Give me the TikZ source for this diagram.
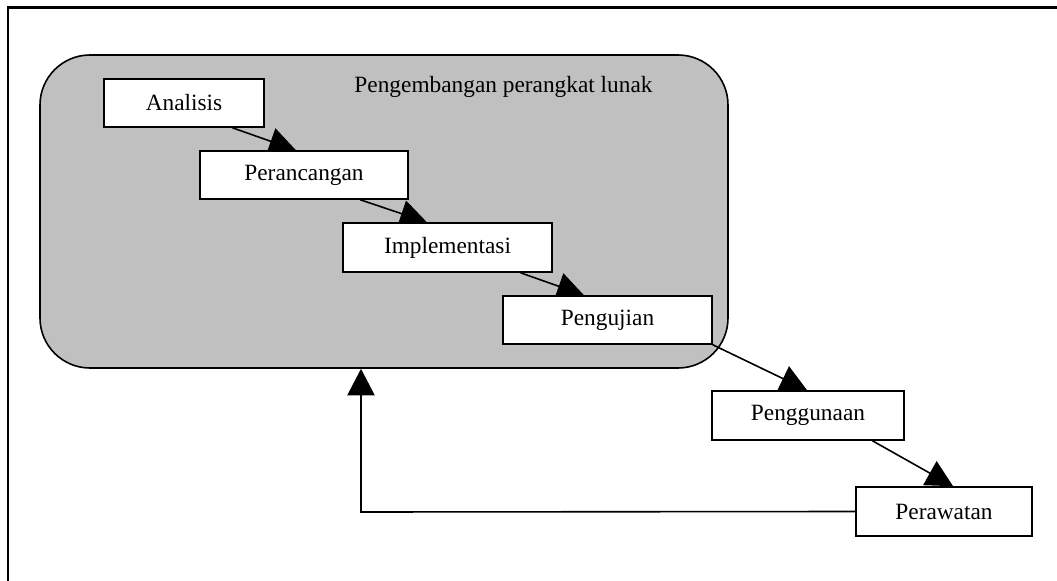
\documentclass[tikz,border=0pt]{standalone}
\usepackage{fontspec}
\setmainfont{Liberation Serif}
\usetikzlibrary{arrows.meta,calc}
\definecolor{groupgray}{HTML}{C0C0C0}
\pgfdeclarelayer{background}
\pgfdeclarelayer{edges}
\pgfsetlayers{background,edges,main}
\tikzset{
  stagebox/.style={draw=black, fill=white, line width=1.2pt, font=\fontsize{17.5pt}{21pt}\selectfont, inner sep=0pt},
  flowarrow/.style={draw=black, line width=1.2pt, -{Triangle[length=20pt, width=20.5pt]}},
  groupbox/.style={draw=black, fill=groupgray, line width=1.2pt, rounded corners=37.5pt, inner sep=0pt},
  framebox/.style={draw=black, line width=1.6pt}
}
\begin{document}
\begin{tikzpicture}[x=0.75pt, y=-0.75pt]
\useasboundingbox (0,0) rectangle (1057,581);
\begin{pgfonlayer}{background}
\fill[white] (0,0) rectangle (1057,581);
\node[groupbox, minimum width=516pt, minimum height=234.75pt] (dev) at (384,211.5) {};
\end{pgfonlayer}
% outer frame (only top and left edges visible)
\draw[framebox] (1070,7.5) -- (8,7.5) -- (8,595);
\node[font=\fontsize{17.5pt}{21pt}\selectfont, anchor=base, inner sep=0pt] (title) at (503.5,93) {Pengembangan perangkat lunak};
% stages
\node[stagebox, minimum width=120pt, minimum height=36pt] (ana) at (184,103) {Analisis};
\node[stagebox, minimum width=156pt, minimum height=36pt] (per) at (304,175) {Perancangan};
\node[stagebox, minimum width=156.75pt, minimum height=36.75pt] (imp) at (447.5,247.5) {Implementasi};
\node[stagebox, minimum width=156.75pt, minimum height=36pt] (pen) at (607.5,320) {Pengujian};
\node[stagebox, minimum width=144pt, minimum height=36.75pt] (gun) at (808,415.5) {Penggunaan};
\node[stagebox, minimum width=132pt, minimum height=36.75pt] (raw) at (944,511.5) {Perawatan};
\coordinate (fb) at (361,512);
% connectors
\begin{pgfonlayer}{edges}
\draw[flowarrow] ($(ana.south west)!0.8!(ana.south east)$) -- ($(per.north west)!0.4615!(per.north east)$);
\draw[flowarrow] ($(per.south west)!0.769!(per.south east)$) -- ($(imp.north west)!0.402!(imp.north east)$);
\draw[flowarrow] ($(imp.south west)!0.847!(imp.south east)$) -- ($(pen.north west)!0.388!(pen.north east)$);
\draw[flowarrow] (pen.south east) -- ($(gun.north west)!0.495!(gun.north east)$);
\draw[flowarrow] ($(gun.south west)!0.833!(gun.south east)$) -- ($(raw.north west)!0.551!(raw.north east)$);
\draw[flowarrow] (raw.west) -- (fb) -- (fb |- dev.south);
\end{pgfonlayer}
\end{tikzpicture}
\end{document}
